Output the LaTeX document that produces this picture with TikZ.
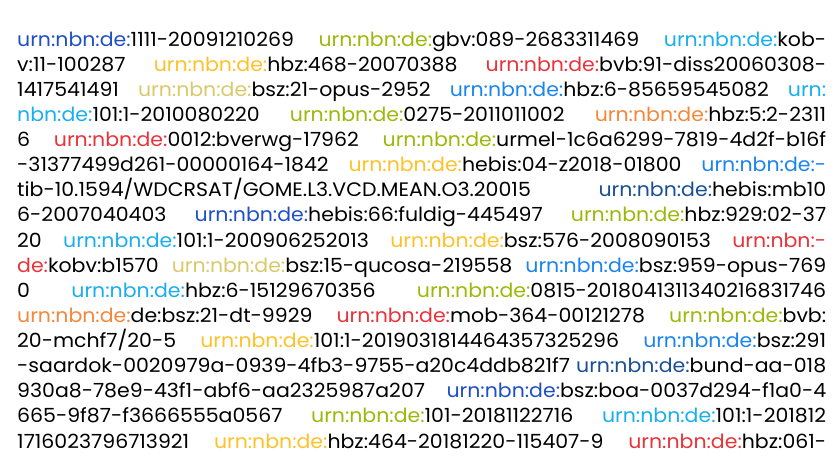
\documentclass[tikz,border=0pt]{standalone}
\usepackage{fontspec}
\setmainfont{Poppins}[FakeStretch=1.05]
\usetikzlibrary{positioning}
\definecolor{urnroyal}{HTML}{1F4FC4}
\definecolor{urnlime}{HTML}{9DB80A}
\definecolor{urnsky}{HTML}{18AEEF}
\definecolor{urngold}{HTML}{FDC22A}
\definecolor{urnred}{HTML}{E8333A}
\definecolor{urnkhaki}{HTML}{D9C96B}
\definecolor{urnazure}{HTML}{1A85EE}
\definecolor{urnorange}{HTML}{F5873A}
\definecolor{urnnavy}{HTML}{1A4F98}
\newcommand\urn[1]{\textcolor{#1}{urn:nbn:de:}}
\newcommand\urnrow[1]{\hbox to 809pt{#1}}
\begin{document}
\begin{tikzpicture}
    [urnline/.style={anchor=base west, inner sep=0pt, font=\fontsize{19.5pt}{25pt}\selectfont},
     nextline/.style={urnline, at={([yshift=-25.125pt]#1.base west)}}]
    \useasboundingbox (0,0) rectangle (838pt,-471pt);
    \node[urnline] (l1) at (17pt,-46pt) {\urnrow{\urn{urnroyal}1111-20091210269 \urn{urnlime}gbv:089-2683311469 \urn{urnsky}kob-}};
    \node[nextline=l1] (l2) {\urnrow{v:11-100287 \urn{urngold}hbz:468-20070388 \urn{urnred}bvb:91-diss20060308-}};
    \node[nextline=l2] (l3) {\urnrow{1417541491 \urn{urnkhaki}bsz:21-opus-2952 \urn{urnazure}hbz:6-85659545082 \textcolor{urnsky}{urn:}}};
    \node[nextline=l3] (l4) {\urnrow{\textcolor{urnsky}{nbn:de:}101:1-2010080220 \urn{urnlime}0275-2011011002 \urn{urnorange}hbz:5:2-2311}};
    \node[nextline=l4] (l5) {\urnrow{6 \urn{urnred}0012:bverwg-17962 \urn{urnlime}urmel-1c6a6299-7819-4d2f-b16f}};
    \node[nextline=l5] (l6) {\urnrow{-31377499d261-00000164-1842 \urn{urngold}hebis:04-z2018-01800 \textcolor{urnazure}{urn:nbn:de:-}}};
    \node[nextline=l6] (l7) {\urnrow{tib-10.1594/WDCRSAT/GOME.L3.VCD.MEAN.O3.20015 \urn{urnnavy}hebis:mb10}};
    \node[nextline=l7] (l8) {\urnrow{6-2007040403 \urn{urnroyal}hebis:66:fuldig-445497 \urn{urnlime}hbz:929:02-37}};
    \node[nextline=l8] (l9) {\urnrow{20 \urn{urnsky}101:1-200906252013 \urn{urngold}bsz:576-2008090153 \textcolor{urnred}{urn:nbn:-}}};
    \node[nextline=l9] (l10) {\urnrow{\textcolor{urnred}{de:}kobv:b1570 \urn{urnkhaki}bsz:15-qucosa-219558 \urn{urnazure}bsz:959-opus-769}};
    \node[nextline=l10] (l11) {\urnrow{0 \urn{urnsky}hbz:6-15129670356 \urn{urnlime}0815-2018041311340216831746}};
    \node[nextline=l11] (l12) {\urnrow{\urn{urnorange}de:bsz:21-dt-9929 \urn{urnred}mob-364-00121278 \urn{urnlime}bvb:}};
    \node[nextline=l12] (l13) {\urnrow{20-mchf7/20-5 \urn{urngold}101:1-2019031814464357325296 \urn{urnazure}bsz:291}};
    \node[nextline=l13] (l14) {\urnrow{-saardok-0020979a-0939-4fb3-9755-a20c4ddb821f7 \urn{urnnavy}bund-aa-018}};
    \node[nextline=l14] (l15) {\urnrow{930a8-78e9-43f1-abf6-aa2325987a207 \urn{urnroyal}bsz:boa-0037d294-f1a0-4}};
    \node[nextline=l15] (l16) {\urnrow{665-9f87-f3666555a0567 \urn{urnlime}101-20181122716 \urn{urnsky}101:1-201812}};
    \node[nextline=l16] (l17) {\urnrow{1716023796713921 \urn{urngold}hbz:464-20181220-115407-9 \urn{urnred}hbz:061-}};
\end{tikzpicture}
\end{document}
